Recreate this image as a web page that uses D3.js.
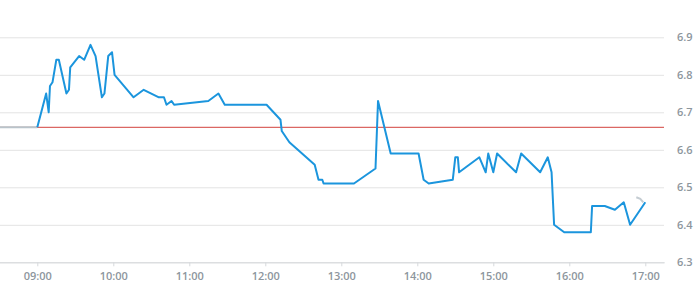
<!DOCTYPE html>
<html>
<head>
<meta charset="utf-8">
<style>
  body { margin: 0; background: #fff; }
  svg { display: block; font-family: "Open Sans", sans-serif; }
</style>
</head>
<body>
<svg width="695" height="300"></svg>
<script src="https://cdn.jsdelivr.net/npm/d3@7"></script>
<script>
    const width = 695;
    const height = 300;

    // intraday prices
    const times = ["09:00","09:07","09:09","09:10","09:12","09:15","09:17","09:23","09:25","09:26",
        "09:33","09:37","09:42","09:46","09:51","09:53","09:56","09:59","10:01","10:16",
        "10:24","10:36","10:40","10:42","10:46","10:48","11:15","11:23","11:28","12:01",
        "12:12","12:13","12:19","12:39","12:42","12:45","12:46","13:10","13:27","13:29",
        "13:39","14:01","14:05","14:09","14:28","14:30","14:32","14:33","14:49","14:54",
        "14:56","15:00","15:03","15:18","15:22","15:37","15:43","15:46","15:48","15:56",
        "16:17","16:18","16:28","16:36","16:43","16:48","17:00"];
    const prices = [6.66,6.75,6.70,6.77,6.78,6.84,6.84,6.75,6.76,6.82,
        6.85,6.84,6.88,6.85,6.74,6.75,6.85,6.86,6.80,6.74,
        6.76,6.74,6.74,6.72,6.73,6.72,6.73,6.75,6.72,6.72,
        6.68,6.65,6.62,6.56,6.52,6.52,6.51,6.51,6.55,6.73,
        6.59,6.59,6.52,6.51,6.52,6.58,6.58,6.54,6.58,6.54,
        6.59,6.54,6.59,6.54,6.59,6.54,6.58,6.54,6.40,6.38,
        6.38,6.45,6.45,6.44,6.46,6.40,6.46];
    const prevClose = 6.66;
    const preTimes = ["08:30","09:00"];
    const yTicks = [6.3,6.4,6.5,6.6,6.7,6.8,6.9];

    const parse = d3.timeParse("%H:%M");
    const data = times.map((t, i) => ({ t: parse(t), v: prices[i] }));
    const pre = preTimes.map(t => ({ t: parse(t), v: prevClose }));

    const plotRight = 664;
    const x = d3.scaleTime()
        .domain([parse("08:30"), parse("17:15")])
        .range([-0.7, 664.3]);
    const y = d3.scaleLinear()
        .domain([6.3, 6.9])
        .range([262.3, 37.3]);

    const svg = d3.select("svg");

    // horizontal grid + right labels
    const yAxis = svg.append("g")
        .call(d3.axisRight(y).tickValues(yTicks).tickSize(plotRight).tickPadding(13).tickFormat(d3.format(".1f")));
    yAxis.select(".domain").remove();
    yAxis.selectAll("line").attr("stroke", "#e3e3e3");
    yAxis.selectAll("text")
        .attr("fill", "#8d969d")
        .attr("font-size", 11)
        .attr("font-weight", 600)
        .attr("font-family", "Open Sans, sans-serif");

    // time axis
    const xAxis = svg.append("g")
        .attr("transform", `translate(0,${y(6.3)})`)
        .call(d3.axisBottom(x).ticks(d3.timeHour.every(1)).tickFormat(d3.timeFormat("%H:%M")).tickSize(4).tickSizeOuter(0).tickPadding(6));
    xAxis.select(".domain").attr("stroke", "#d6d9dc");
    xAxis.selectAll("line").attr("stroke", "#d6d9dc");
    xAxis.selectAll("text")
        .attr("fill", "#8d969d")
        .attr("font-size", 11)
        .attr("font-weight", 600)
        .attr("font-family", "Open Sans, sans-serif");

    // previous close
    svg.append("line")
        .attr("x1", 0).attr("x2", plotRight)
        .attr("y1", y(prevClose)).attr("y2", y(prevClose))
        .attr("stroke", "#d2423c")
        .attr("stroke-width", 1);

    const line = d3.line().x(d => x(d.t)).y(d => y(d.v));

    // pre-market flat
    svg.append("path")
        .datum(pre)
        .attr("d", line)
        .attr("fill", "none")
        .attr("stroke", "#b9c3ca")
        .attr("stroke-width", 2);

    svg.append("path")
        .datum(data)
        .attr("d", line)
        .attr("fill", "none")
        .attr("stroke", "#1b95dd")
        .attr("stroke-width", 2)
        .attr("stroke-linejoin", "round");

    // little gray marker at the last point
    const last = data[data.length - 1];
    const lx = x(last.t), ly = y(last.v);
    svg.append("path")
        .attr("d", `M${lx - 9},${ly - 5} L${lx - 5},${ly - 3.5} L${lx - 2},${ly}`)
        .attr("fill", "none")
        .attr("stroke", "#c4ccd2")
        .attr("stroke-width", 2);
</script>
</body>
</html>
